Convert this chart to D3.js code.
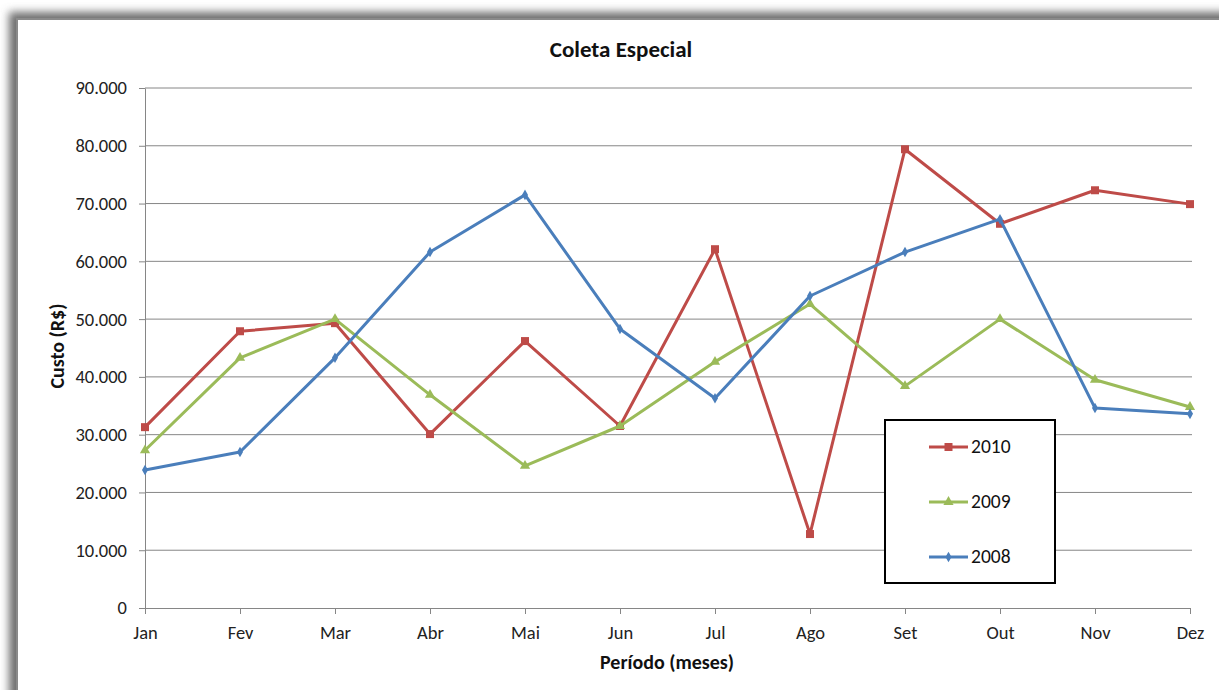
<!DOCTYPE html>
<html><head><meta charset="utf-8">
<script src="https://cdn.jsdelivr.net/npm/d3@7"></script>
<style>body{margin:0;background:#fff}svg{display:block}text{font-family:Carlito,Lato,"Open Sans",sans-serif}</style>
</head><body><svg id="c" width="1219" height="690"></svg>
<script>
const months = ["Jan","Fev","Mar","Abr","Mai","Jun","Jul","Ago","Set","Out","Nov","Dez"];
const yTicks = [0,10000,20000,30000,40000,50000,60000,70000,80000,90000];
const s2010 = [31300,47900,49300,30100,46200,31500,62100,12800,79400,66500,72300,69900];
const s2009 = [27300,43300,50000,36900,24600,31500,42600,52600,38400,50000,39500,34800];
const s2008 = [23900,27000,43300,61600,71500,48300,36300,54000,61600,67300,34600,33600];
const series = [
  {name:"2010", values:s2010, color:"#BE4B48", marker:"square"},
  {name:"2009", values:s2009, color:"#9BBB59", marker:"triangle"},
  {name:"2008", values:s2008, color:"#4A7EBB", marker:"diamond"}
];
const svg = d3.select("#c");
const defs = svg.append("defs");
const f = defs.append("filter").attr("id","sh").attr("x","-5%").attr("y","-5%").attr("width","110%").attr("height","110%");
f.append("feGaussianBlur").attr("stdDeviation",4);
svg.append("rect").attr("x",9).attr("y",12).attr("width",1240).attr("height",720).attr("fill","#6e6e6e").attr("filter","url(#sh)");
svg.append("rect").attr("x",18).attr("y",20).attr("width",1230).attr("height",700).attr("fill","#fff");
svg.append("rect").attr("x",17).attr("y",19).attr("width",1230).attr("height",700).attr("fill","none").attr("stroke","#8a8a8a").attr("stroke-width",2);

const x = d3.scalePoint().domain(months).range([145,1190]);
const y = d3.scaleLinear().domain([0,90000]).range([608,88]);
const fmt = v => v===0 ? "0" : d3.format(",")(v).replace(/,/g,".");

svg.append("g").selectAll("line").data(yTicks.filter(d=>d>0)).join("line")
  .attr("x1",145).attr("x2",1192).attr("y1",d=>y(d)).attr("y2",d=>y(d))
  .attr("stroke","#868686").attr("stroke-width",1);

const ya = svg.append("g").attr("transform","translate(145,0)")
  .call(d3.axisLeft(y).tickValues(yTicks).tickFormat(fmt).tickSize(6).tickSizeOuter(0));
ya.select(".domain").attr("stroke","#868686");
ya.selectAll(".tick line").attr("stroke","#868686");
ya.selectAll("text").attr("font-size",18.5).attr("fill","#222").attr("x",-18);

const xa = svg.append("g").attr("transform","translate(0,608)")
  .call(d3.axisBottom(x).tickSize(6).tickSizeOuter(0));
xa.select(".domain").attr("stroke","#868686");
xa.selectAll(".tick line").attr("stroke","#868686");
xa.selectAll("text").attr("font-size",18.5).attr("fill","#222").attr("y",18).attr("dy","0.71em");

const line = d3.line().x((d,i)=>x(months[i])).y(d=>y(d));
const sym = {square:d3.symbolSquare, triangle:d3.symbolTriangle, diamond:d3.symbolDiamond};
const symSize = {square:64, triangle:45, diamond:32};
series.forEach(s=>{
  svg.append("path").datum(s.values).attr("d",line).attr("fill","none")
    .attr("stroke",s.color).attr("stroke-width",3).attr("stroke-linejoin","round");
  svg.append("g").selectAll("path").data(s.values).join("path")
    .attr("d",d3.symbol(sym[s.marker],symSize[s.marker]))
    .attr("transform",(d,i)=>`translate(${x(months[i])},${y(d)})`)
    .attr("fill",s.color);
});

svg.append("rect").attr("x",885).attr("y",420).attr("width",170).attr("height",163)
  .attr("fill","#fff").attr("stroke","#000").attr("stroke-width",2);
series.forEach((s,i)=>{
  const ly = 447 + i*55;
  svg.append("line").attr("x1",929).attr("x2",968).attr("y1",ly).attr("y2",ly).attr("stroke",s.color).attr("stroke-width",3);
  svg.append("path").attr("d",d3.symbol(sym[s.marker],symSize[s.marker])).attr("transform",`translate(948.5,${ly})`).attr("fill",s.color);
  svg.append("text").attr("x",971).attr("y",ly+6).attr("font-size",19.5).attr("fill","#111").text(s.name);
});

svg.append("text").attr("x",621).attr("y",57).attr("text-anchor","middle").attr("font-size",23).attr("font-weight","bold").attr("fill","#111").text("Coleta Especial");
svg.append("text").attr("transform","translate(64,346) rotate(-90)").attr("text-anchor","middle").attr("font-size",20).attr("font-weight","bold").attr("fill","#111").text("Custo (R$)");
svg.append("text").attr("x",667).attr("y",669).attr("text-anchor","middle").attr("font-size",20).attr("font-weight","bold").attr("fill","#111").text("Período (meses)");
</script></body></html>
